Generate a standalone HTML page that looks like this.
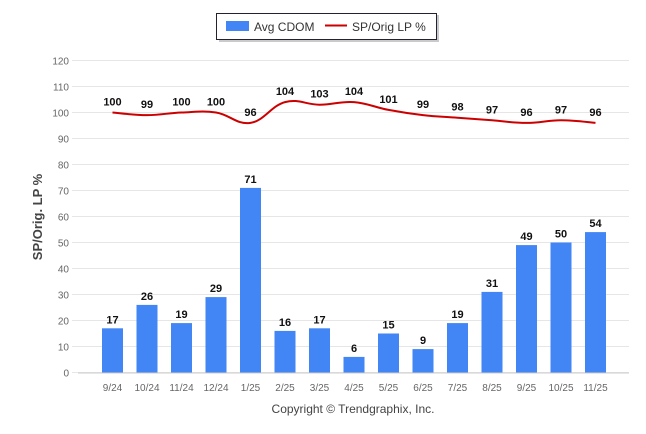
<!DOCTYPE html>
<html><head><meta charset="utf-8"><style>
html,body{margin:0;padding:0;background:#fff;width:646px;height:434px;overflow:hidden;font-family:"Liberation Sans",sans-serif}
</style></head><body>
<svg id="chart" width="646" height="434" xmlns="http://www.w3.org/2000/svg">
<g id="legend">
<rect x="219" y="15" width="220" height="27" fill="#666" opacity="0.35"/>
<rect x="216.5" y="13.5" width="220" height="26" fill="#fff" stroke="#223" stroke-width="1"/>
<rect x="226" y="21" width="23" height="10" fill="#4285f4"/>
<text x="254" y="31" font-size="12" fill="#333">Avg CDOM</text>
<line x1="325" y1="25.5" x2="347" y2="25.5" stroke="#cc0000" stroke-width="2"/>
<text x="352" y="31" font-size="12" fill="#333">SP/Orig LP %</text>
</g>
<text transform="translate(42,217) rotate(-90)" text-anchor="middle" font-size="13" font-weight="bold" fill="#444">SP/Orig. LP %</text>
<text x="353" y="413" text-anchor="middle" font-size="12" fill="#444">Copyright © Trendgraphix, Inc.</text>
<g id="grid"></g><g id="bars"></g><g id="line"></g><g id="labels"></g>
</svg>
<script>
const categories=["9/24","10/24","11/24","12/24","1/25","2/25","3/25","4/25","5/25","6/25","7/25","8/25","9/25","10/25","11/25"];
const cdom=[17,26,19,29,71,16,17,6,15,9,19,31,49,50,54];
const spPct=[100,99,100,100,96,104,103,104,101,99,98,97,96,97,96];
const yTicks=[0,10,20,30,40,50,60,70,80,90,100,110,120];
const NS="http://www.w3.org/2000/svg";
function y(v){return 372.5-v*2.6;}
function x(i){return 112.5+i*34.5;}
function mk(tag,attrs,parent){const e=document.createElementNS(NS,tag);for(const k in attrs)e.setAttribute(k,attrs[k]);document.getElementById(parent).appendChild(e);return e;}
yTicks.forEach(t=>{
 const l=mk('line',{x1:72,x2:629,y1:y(t),y2:y(t),stroke:'#e6e6e6','stroke-width':1},'grid');
 
 
 const tx=mk('text',{x:69,y:y(t)+4,'text-anchor':'end','font-size':10,fill:'#666'},'grid');
 tx.textContent=t;
 
 
});
const ax=mk('line',{x1:78,x2:629,y1:373,y2:373,stroke:'#ccc'},'grid');


categories.forEach((c,i)=>{
 const b=mk('rect',{x:x(i)-10.5,y:y(cdom[i]),width:21,height:y(0)-y(cdom[i]),fill:'#4285f4'},'bars');
 
 
 const bl=mk('text',{x:x(i),y:y(cdom[i])-5,'text-anchor':'middle','font-size':11,'font-weight':'bold',fill:'#111'},'labels');
 bl.textContent=cdom[i];
 
 
 const tl=mk('text',{x:x(i),y:391,'text-anchor':'middle','font-size':10,fill:'#666'},'labels');
 tl.textContent=c;
 
 
 const pl=mk('text',{x:x(i),y:y(spPct[i])-7,'text-anchor':'middle','font-size':11,'font-weight':'bold',fill:'#111'},'labels');
 pl.textContent=spPct[i];
 
 
});
const pts=spPct.map((v,i)=>[x(i),y(v)]);
let d='M'+pts[0][0]+','+pts[0][1];
for(let i=0;i<pts.length-1;i++){
 const p0=pts[Math.max(0,i-1)],p1=pts[i],p2=pts[i+1],p3=pts[Math.min(pts.length-1,i+2)];
 const t=0.2;
 d+=' C'+(p1[0]+(p2[0]-p0[0])*t)+','+(p1[1]+(p2[1]-p0[1])*t)+' '+(p2[0]-(p3[0]-p1[0])*t)+','+(p2[1]-(p3[1]-p1[1])*t)+' '+p2[0]+','+p2[1];
}
const path=mk('path',{d:d,fill:'none',stroke:'#cc0000','stroke-width':2},'line');


</script>
</body></html>
